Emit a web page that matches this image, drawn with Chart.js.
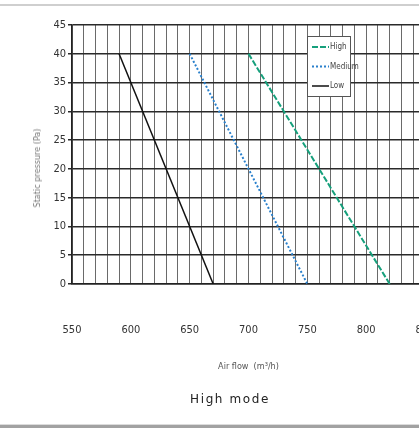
<!DOCTYPE html>
<html>
<head>
<meta charset="utf-8">
<script src="https://cdn.jsdelivr.net/npm/chart.js@4"></script>
<style>
  body { margin: 0; background: #fff; }
  #wrap { position: relative; width: 419px; height: 428px; overflow: hidden; }
  #topline { position: absolute; left: 0; top: 4px; width: 419px; height: 2px; background: #cfcfcf; }
  #bottomband { position: absolute; left: 0; top: 424px; width: 419px; height: 4px; background: #a2a2a2; border-top: 1px solid #dcdcdc; }
  #box { position: absolute; left: 0; top: 0; width: 460px; height: 428px; }
  #ytitle { position: absolute; left: 37px; top: 168px; transform: translate(-50%, -50%) rotate(-90deg);
    font: 9px "Liberation Sans Narrow", "DejaVu Sans Condensed", sans-serif; color: #777; white-space: nowrap; }
  #caption { position: absolute; left: 0; top: 392px; width: 460px; text-align: center;
    font: 12px "DejaVu Sans", sans-serif; letter-spacing: 1.6px; color: #222; }
</style>
</head>
<body>
<div id="wrap">
  <div id="topline"></div>
  <div id="box"><canvas id="chart" width="460" height="428"></canvas></div>
  <div id="ytitle">Static pressure (Pa)</div>
  <div id="caption">High mode</div>
  <div id="bottomband"></div>
</div>
<script>
// curves: air flow (m3/h) vs static pressure (Pa)
const seriesNames = ["High", "Medium", "Low"];
const highFlow = [700, 820];
const highPressure = [40, 0];
const mediumFlow = [650, 750];
const mediumPressure = [40, 0];
const lowFlow = [590, 670];
const lowPressure = [40, 0];

const xMin = 550, xMax = 850, xStep = 10, xLabelStep = 50;
const yMin = 0, yMax = 45, yStep = 5;

const narrow = '"Liberation Sans Narrow", "DejaVu Sans Condensed", sans-serif';

function points(xs, ys) {
    return xs.map((x, i) => ({x: x, y: ys[i]}));
}

// small boxed legend sitting inside the plot, top right
const boxLegend = {
    id: 'boxLegend',
    afterDatasetsDraw(chart) {
        const ctx = chart.ctx;
        const left = 307, top = 36, w = 43, h = 60;
        ctx.save();
        ctx.fillStyle = '#fff';
        ctx.fillRect(left, top, w, h);
        ctx.strokeStyle = '#555';
        ctx.lineWidth = 1;
        ctx.strokeRect(left + 0.5, top + 0.5, w, h);
        ctx.font = '8px ' + narrow;
        ctx.textBaseline = 'middle';
        chart.data.datasets.forEach((ds, i) => {
            const y = top + 11 + i * 19.5;
            ctx.strokeStyle = ds.borderColor;
            ctx.lineWidth = ds.borderWidth;
            ctx.setLineDash(ds.borderDash || []);
            ctx.beginPath();
            ctx.moveTo(left + 5, y);
            ctx.lineTo(left + 22, y);
            ctx.stroke();
            ctx.setLineDash([]);
            ctx.fillStyle = '#444';
            ctx.fillText(ds.label, left + 23, y);
        });
        ctx.restore();
    }
};

new Chart(document.getElementById('chart'), {
    type: 'line',
    data: {
        datasets: [
            {
                label: seriesNames[0],
                data: points(highFlow, highPressure),
                borderColor: '#16a07c',
                borderWidth: 2,
                borderDash: [6, 2],
                pointRadius: 0,
                fill: false
            },
            {
                label: seriesNames[1],
                data: points(mediumFlow, mediumPressure),
                borderColor: '#2a80cc',
                borderWidth: 2,
                borderDash: [2, 2],
                pointRadius: 0,
                fill: false
            },
            {
                label: seriesNames[2],
                data: points(lowFlow, lowPressure),
                borderColor: '#111',
                borderWidth: 1.5,
                pointRadius: 0,
                fill: false
            }
        ]
    },
    options: {
        responsive: false,
        animation: false,
        layout: {padding: {top: 25, left: 0, right: 35, bottom: 45}},
        plugins: {
            legend: {display: false},
            tooltip: {enabled: false}
        },
        scales: {
            x: {
                type: 'linear',
                min: xMin,
                max: xMax,
                afterFit: (s) => { s.height = 428 - 45 - 284; },
                border: {color: '#222', width: 1.5},
                // invisible tick marks push the labels well below the axis
                grid: {color: '#6a6a6a', lineWidth: 1, drawTicks: true, tickLength: 38, tickColor: 'rgba(0,0,0,0)'},
                ticks: {
                    stepSize: xStep,
                    autoSkip: false,
                    maxRotation: 0,
                    padding: 2,
                    color: '#333',
                    font: {family: narrow, size: 11},
                    callback: (v) => (v % xLabelStep === 0 ? v : '')
                },
                title: {
                    display: true,
                    text: 'Air flow  (m³/h)',
                    color: '#555',
                    font: {family: narrow, size: 9},
                    padding: {top: 0, bottom: 11}
                }
            },
            y: {
                min: yMin,
                max: yMax,
                afterFit: (s) => { s.width = 72; },
                border: {color: '#222', width: 1.5},
                grid: {color: '#2a2a2a', lineWidth: 1.5, tickLength: 4},
                ticks: {
                    stepSize: yStep,
                    padding: 2,
                    color: '#333',
                    font: {family: narrow, size: 11}
                }
            }
        }
    },
    plugins: [boxLegend]
});
</script>
</body>
</html>
